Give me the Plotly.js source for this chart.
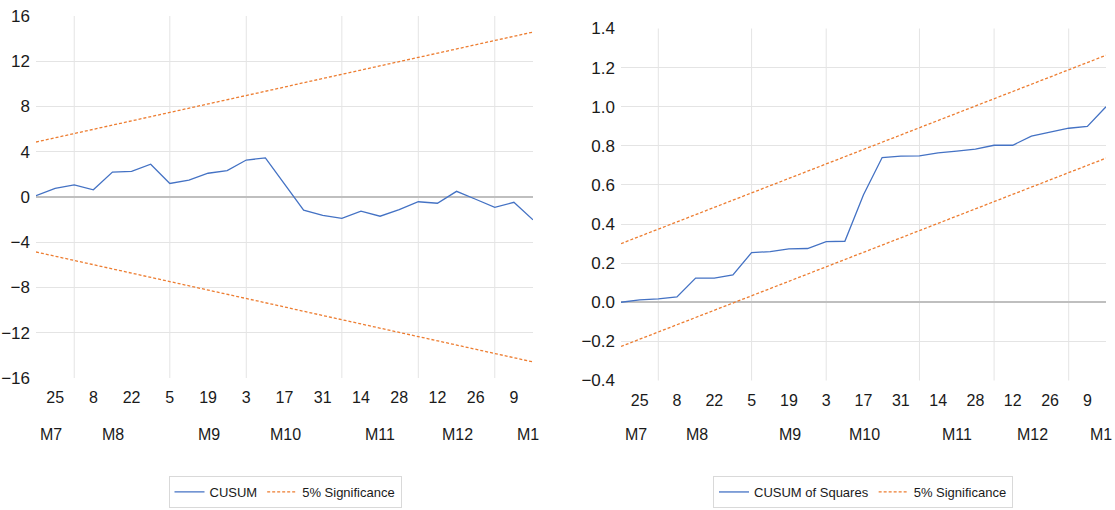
<!DOCTYPE html>
<html>
<head>
<meta charset="utf-8">
<script src="https://cdn.plot.ly/plotly-3.0.1.min.js"></script>
<style>
  html, body { margin: 0; padding: 0; background: #ffffff; }
  #chart { width: 1115px; height: 510px; }
</style>
</head>
<body>
<div id="chart"></div>
<script>
// ---- Data (weekly observations, Jul -> Jan) ----
const dayNums = [18, 25, 1, 8, 15, 22, 29, 5, 12, 19, 26, 3, 10, 17, 24, 31, 7, 14, 21, 28, 5, 12, 19, 26, 2, 9, 16];
const monthLabels = ["M7", "M8", "M9", "M10", "M11", "M12", "M1"];
const monthStartIdx = [0, 2, 7, 11, 16, 20, 24];
const monthLabelPos = [0.8, 4.05, 9.05, 13.05, 18.0, 22.05, 25.75];

const cusum = [0.12, 0.77, 1.07, 0.64, 2.2, 2.27, 2.9, 1.2, 1.5, 2.1, 2.33, 3.27, 3.45, 1.12,
               -1.17, -1.62, -1.88, -1.25, -1.7, -1.12, -0.42, -0.55, 0.5, -0.2, -0.92, -0.47, -2.02];
const cusumUpper = [4.86, 5.23, 5.61, 5.98, 6.36, 6.73, 7.10, 7.48, 7.85, 8.23, 8.60, 8.97, 9.35, 9.72,
                    10.10, 10.47, 10.84, 11.22, 11.59, 11.97, 12.34, 12.71, 13.09, 13.46, 13.84, 14.21, 14.58];
const cusumLower = [-4.86, -5.23, -5.61, -5.98, -6.36, -6.73, -7.10, -7.48, -7.85, -8.23, -8.60, -8.97, -9.35, -9.72,
                    -10.10, -10.47, -10.84, -11.22, -11.59, -11.97, -12.34, -12.71, -13.09, -13.46, -13.84, -14.21, -14.58];

const cusumSq = [0.0, 0.012, 0.017, 0.027, 0.124, 0.124, 0.14, 0.254, 0.259, 0.273, 0.275, 0.31, 0.312, 0.55,
                 0.74, 0.747, 0.749, 0.764, 0.773, 0.783, 0.803, 0.803, 0.85, 0.87, 0.89, 0.899, 1.0];
const sqUpper = [0.300, 0.337, 0.374, 0.411, 0.448, 0.485, 0.522, 0.559, 0.596, 0.633, 0.670, 0.707, 0.744, 0.781,
                 0.819, 0.856, 0.893, 0.930, 0.967, 1.004, 1.041, 1.078, 1.115, 1.152, 1.189, 1.226, 1.263];
const sqLower = [-0.226, -0.189, -0.152, -0.115, -0.078, -0.041, -0.004, 0.033, 0.070, 0.107, 0.144, 0.181, 0.218, 0.255,
                 0.293, 0.330, 0.367, 0.404, 0.441, 0.478, 0.515, 0.552, 0.589, 0.626, 0.663, 0.700, 0.737];

// ---- Styling ----
const FONT = '"Liberation Sans", Arial, sans-serif';
const BLUE = '#4472C4';
const ORANGE = '#ED7D31';
const GRID = '#E4E4E4';
const TEXT = '#1a1a1a';

const idx = dayNums.map((_, i) => i);
const tickIdx = idx.filter(i => i % 2 === 1);
const tickTxt = tickIdx.map(i => String(dayNums[i]));

const traces = [
  { x: idx, y: cusum, type: 'scatter', mode: 'lines', name: 'CUSUM',
    line: { color: BLUE, width: 1.3 }, xaxis: 'x', yaxis: 'y', legend: 'legend' },
  { x: idx, y: cusumUpper, type: 'scatter', mode: 'lines', name: '5% Significance',
    line: { color: ORANGE, width: 1.3, dash: '3px,2px' }, xaxis: 'x', yaxis: 'y', legend: 'legend' },
  { x: idx, y: cusumLower, type: 'scatter', mode: 'lines', name: '5% Significance', showlegend: false,
    line: { color: ORANGE, width: 1.3, dash: '3px,2px' }, xaxis: 'x', yaxis: 'y', legend: 'legend' },
  { x: idx, y: cusumSq, type: 'scatter', mode: 'lines', name: 'CUSUM of Squares',
    line: { color: BLUE, width: 1.3 }, xaxis: 'x2', yaxis: 'y2', legend: 'legend2' },
  { x: idx, y: sqUpper, type: 'scatter', mode: 'lines', name: '5% Significance',
    line: { color: ORANGE, width: 1.3, dash: '3px,2px' }, xaxis: 'x2', yaxis: 'y2', legend: 'legend2' },
  { x: idx, y: sqLower, type: 'scatter', mode: 'lines', name: '5% Significance', showlegend: false,
    line: { color: ORANGE, width: 1.3, dash: '3px,2px' }, xaxis: 'x2', yaxis: 'y2', legend: 'legend2' }
];

const W = 1115, H = 510;
const xAxisBase = {
  range: [0, idx.length - 1], showgrid: false, zeroline: false, showline: false,
  tickmode: 'array', tickvals: tickIdx, ticktext: tickTxt,
  ticks: '', ticklabelstandoff: 8,
  tickfont: { family: FONT, size: 16, color: TEXT }, fixedrange: true
};
const yAxisBase = {
  showgrid: true, gridcolor: GRID, gridwidth: 1, zeroline: true, zerolinecolor: '#BFBFBF', zerolinewidth: 2,
  showline: false, ticks: '', ticklabelstandoff: 5,
  tickfont: { family: FONT, size: 17, color: TEXT }, fixedrange: true
};

const shapes = [];
const annotations = [];
[['x', 'y'], ['x2', 'y2']].forEach(([xr, yr]) => {
  monthStartIdx.slice(1).forEach(b => {
    shapes.push({ type: 'line', xref: xr, yref: yr + ' domain', x0: b, x1: b, y0: 0, y1: 1,
      line: { color: GRID, width: 1 }, layer: 'below' });
  });
  monthLabels.forEach((m, k) => {
    annotations.push({ text: m, xref: xr, yref: 'paper', x: monthLabelPos[k], y: 1 - 434 / H,
      showarrow: false, xanchor: 'center', yanchor: 'middle',
      font: { family: FONT, size: 16, color: TEXT } });
  });
});

const legendBase = {
  orientation: 'h', xanchor: 'center', yanchor: 'middle', y: 1 - 492 / H,
  bordercolor: '#D9D9D9', borderwidth: 1, bgcolor: '#ffffff',
  font: { family: FONT, size: 13, color: TEXT }, itemwidth: 30, tracegroupgap: 0
};

const layout = {
  width: W, height: H,
  margin: { l: 0, r: 0, t: 0, b: 0 },
  paper_bgcolor: '#ffffff', plot_bgcolor: '#ffffff',
  showlegend: true,
  xaxis: Object.assign({}, xAxisBase, { domain: [36 / W, 533 / W], anchor: 'y' }),
  yaxis: Object.assign({}, yAxisBase, { domain: [1 - 378 / H, 1 - 16 / H], range: [-16, 16], dtick: 4, tick0: 0, anchor: 'x' }),
  xaxis2: Object.assign({}, xAxisBase, { domain: [621 / W, 1106 / W], anchor: 'y2' }),
  yaxis2: Object.assign({}, yAxisBase, { domain: [1 - 380.5 / H, 1 - 28.5 / H], range: [-0.4, 1.4], dtick: 0.2, tick0: 0, tickformat: '.1f', anchor: 'x2' }),
  legend: Object.assign({}, legendBase, { x: 285 / W }),
  legend2: Object.assign({}, legendBase, { x: 863 / W }),
  shapes: shapes,
  annotations: annotations
};

Plotly.newPlot('chart', traces, layout, { staticPlot: true, displayModeBar: false });
</script>
</body>
</html>
